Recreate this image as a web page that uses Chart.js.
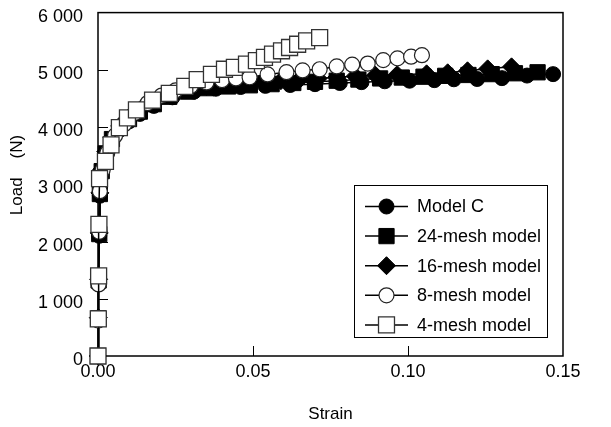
<!DOCTYPE html>
<html>
<head>
<meta charset="utf-8">
<script src="https://cdn.jsdelivr.net/npm/chart.js@4.4.1/dist/chart.umd.min.js"></script>
<style>
  html, body { margin: 0; padding: 0; background: #fff; }
  #wrap { width: 611px; height: 427px; }
</style>
</head>
<body>
<div id="wrap"><canvas id="chart" width="611" height="427"></canvas></div>
<script>
// values (strain, load in N)
const strainModelC = [0, 0.0001, 0.0002, 0.0004, 0.0006, 0.0012, 0.0025, 0.0045, 0.007, 0.010, 0.0135, 0.018, 0.024, 0.031, 0.038, 0.046, 0.054, 0.062, 0.070, 0.078, 0.085, 0.0925, 0.1005, 0.1085, 0.1148, 0.1223, 0.1303, 0.1384, 0.1468];
const loadModelC = [0, 650, 1300, 2100, 2800, 3200, 3500, 3750, 3950, 4100, 4230, 4370, 4520, 4620, 4670, 4700, 4720, 4735, 4750, 4770, 4785, 4800, 4810, 4820, 4835, 4840, 4855, 4900, 4925];

const strain24 = [0, 0.0001, 0.0002, 0.0004, 0.0006, 0.0012, 0.0025, 0.0045, 0.007, 0.010, 0.0135, 0.018, 0.023, 0.029, 0.035, 0.042, 0.049, 0.056, 0.063, 0.070, 0.077, 0.084, 0.091, 0.098, 0.105, 0.112, 0.1195, 0.127, 0.1345, 0.1418];
const load24 = [0, 660, 1320, 2130, 2830, 3230, 3540, 3790, 3990, 4140, 4270, 4400, 4530, 4620, 4680, 4710, 4730, 4750, 4770, 4790, 4810, 4830, 4850, 4865, 4880, 4895, 4910, 4925, 4940, 4957];

const strain16 = [0, 0.0001, 0.0002, 0.0004, 0.0006, 0.0012, 0.0025, 0.0045, 0.007, 0.010, 0.0135, 0.018, 0.023, 0.029, 0.035, 0.041, 0.047, 0.053, 0.059, 0.065, 0.071, 0.077, 0.083, 0.0895, 0.0965, 0.106, 0.1128, 0.1192, 0.1257, 0.1334];
const load16 = [0, 670, 1340, 2150, 2850, 3260, 3570, 3820, 4020, 4170, 4300, 4430, 4560, 4650, 4710, 4740, 4770, 4790, 4810, 4830, 4850, 4870, 4890, 4905, 4915, 4930, 4948, 4983, 5017, 5052];

const strain8 = [0, 0.0001, 0.0002, 0.0004, 0.0006, 0.0015, 0.003, 0.0055, 0.0085, 0.012, 0.016, 0.0205, 0.025, 0.030, 0.035, 0.040, 0.0445, 0.0489, 0.0547, 0.0608, 0.066, 0.0715, 0.077, 0.082, 0.087, 0.092, 0.0966, 0.101, 0.1045];
const load8 = [0, 620, 1250, 2170, 2880, 3250, 3550, 3850, 4050, 4250, 4420, 4550, 4640, 4720, 4780, 4820, 4850, 4870, 4920, 4960, 4990, 5010, 5060, 5090, 5110, 5170, 5200, 5230, 5256];

const strain4 = [0, 0.0001, 0.0002, 0.0003, 0.0005, 0.0024, 0.0042, 0.0069, 0.0095, 0.0124, 0.0176, 0.023, 0.028, 0.032, 0.0366, 0.0408, 0.044, 0.0479, 0.0511, 0.0537, 0.0563, 0.0592, 0.0618, 0.0644, 0.0673, 0.0715];
const load4 = [0, 650, 1400, 2300, 3100, 3400, 3690, 3990, 4160, 4300, 4470, 4590, 4710, 4830, 4920, 5010, 5043, 5100, 5160, 5217, 5274, 5333, 5390, 5447, 5506, 5563];

const seriesLabels = ['Model C', '24-mesh model', '16-mesh model', '8-mesh model', '4-mesh model'];

const xTicks = [0, 0.05, 0.10, 0.15];
const xTickLabels = ['0.00', '0.05', '0.10', '0.15'];
const yTicks = [0, 1000, 2000, 3000, 4000, 5000, 6000];
const yTickLabels = ['0', '1 000', '2 000', '3 000', '4 000', '5 000', '6 000'];
const xTitle = 'Strain';
const yTitle = 'Load    (N)';

const FONT = 'Arial, "Liberation Sans", sans-serif';

const markers = [
  { style: 'circle', r: 7.5, fill: '#000', edge: '#000', bw: 1 },
  { style: 'rect', r: 10.8, fill: '#000', edge: '#000', bw: 1 },
  { style: 'rectRot', r: 9, fill: '#000', edge: '#000', bw: 1 },
  { style: 'circle', r: 7.5, fill: '#fff', edge: '#222', bw: 1.2 },
  { style: 'rect', r: 11.3, fill: '#fff', edge: '#333', bw: 1.3 },
];

function toPoints(xs, ys) {
  return xs.map((x, i) => ({ x, y: ys[i] }));
}

const seriesData = [
  toPoints(strainModelC, loadModelC),
  toPoints(strain24, load24),
  toPoints(strain16, load16),
  toPoints(strain8, load8),
  toPoints(strain4, load4),
];

const datasets = seriesData.map((data, i) => {
  const m = markers[i];
  return {
    label: seriesLabels[i],
    data,
    showLine: true,
    borderColor: '#000',
    borderWidth: 1.5,
    pointStyle: m.style,
    pointRadius: m.r,
    pointHoverRadius: m.r,
    pointBackgroundColor: m.fill,
    pointBorderColor: m.edge,
    pointBorderWidth: m.bw,
    clip: false,
    order: 5 - i, // first series at the bottom
  };
});

// frame, inward tick marks and the y title
const framePlugin = {
  id: 'frame',
  beforeDatasetsDraw(chart) {
    const { ctx, chartArea: a } = chart;
    const xs = chart.scales.x, ys = chart.scales.y;
    ctx.save();
    ctx.strokeStyle = '#000';
    ctx.lineWidth = 1.5;
    ctx.strokeRect(a.left, a.top, a.right - a.left, a.bottom - a.top);
    ctx.lineWidth = 1;
    ctx.beginPath();
    yTicks.slice(1, -1).forEach((v) => {
      const y = Math.round(ys.getPixelForValue(v)) + 0.5;
      ctx.moveTo(a.left, y);
      ctx.lineTo(a.left + 10, y);
    });
    xTicks.slice(1, -1).forEach((v) => {
      const x = Math.round(xs.getPixelForValue(v)) + 0.5;
      ctx.moveTo(x, a.bottom);
      ctx.lineTo(x, a.bottom - 10);
    });
    ctx.stroke();

    ctx.translate(17, 175);
    ctx.rotate(-Math.PI / 2);
    ctx.fillStyle = '#000';
    ctx.font = '17px ' + FONT;
    ctx.textAlign = 'center';
    ctx.textBaseline = 'middle';
    ctx.fillText(yTitle, 0, 0);
    ctx.restore();
  },
};

// boxed legend with line + marker samples
const legendPlugin = {
  id: 'boxLegend',
  afterDraw(chart) {
    const { ctx } = chart;
    const box = { x: 354.5, y: 185.5, w: 193, h: 152 };
    ctx.save();
    ctx.fillStyle = '#fff';
    ctx.fillRect(box.x, box.y, box.w, box.h);
    ctx.strokeStyle = '#000';
    ctx.lineWidth = 1;
    ctx.strokeRect(box.x, box.y, box.w, box.h);
    ctx.font = '18px ' + FONT;
    ctx.textBaseline = 'middle';
    seriesLabels.forEach((label, i) => {
      const m = markers[i];
      const y = 206.5 + i * 29.6;
      ctx.strokeStyle = '#000';
      ctx.lineWidth = 1.5;
      ctx.beginPath();
      ctx.moveTo(365, y);
      ctx.lineTo(408, y);
      ctx.stroke();
      ctx.fillStyle = m.fill;
      ctx.strokeStyle = m.edge;
      ctx.lineWidth = m.bw;
      Chart.helpers.drawPoint(ctx, { pointStyle: m.style, radius: m.r, rotation: 0, borderWidth: m.bw }, 386.5, y);
      ctx.fillStyle = '#000';
      ctx.fillText(label, 417, y + 1);
    });
    ctx.restore();
  },
};

new Chart(document.getElementById('chart'), {
  type: 'scatter',
  data: { datasets },
  options: {
    responsive: false,
    animation: false,
    devicePixelRatio: 1,
    layout: { padding: { left: 8, top: 6, right: 48, bottom: 0 } },
    plugins: { legend: { display: false }, tooltip: { enabled: false } },
    scales: {
      x: {
        type: 'linear',
        min: 0,
        max: 0.15,
        grid: { display: false },
        border: { display: false },
        afterBuildTicks: (s) => { s.ticks = xTicks.map((v) => ({ value: v })); },
        afterFit: (s) => { s.height = 71; s.paddingLeft = 0; s.paddingRight = 0; },
        ticks: {
          autoSkip: false,
          maxRotation: 0,
          padding: -3,
          color: '#000',
          font: { family: FONT, size: 18 },
          callback: (v, i) => xTickLabels[i],
        },
        title: {
          display: true,
          text: xTitle,
          color: '#000',
          font: { family: FONT, size: 17 },
          padding: { top: 0, bottom: 2 },
        },
      },
      y: {
        min: 0,
        max: 6000,
        grid: { display: false },
        border: { display: false },
        afterBuildTicks: (s) => { s.ticks = yTicks.map((v) => ({ value: v })); },
        afterFit: (s) => { s.width = 90; s.paddingTop = 0; s.paddingBottom = 0; },
        ticks: {
          autoSkip: false,
          padding: 7,
          labelOffset: 4,
          color: '#000',
          font: { family: FONT, size: 18 },
          callback: (v, i) => yTickLabels[i],
        },
        title: { display: false },
      },
    },
  },
  plugins: [framePlugin, legendPlugin],
});
</script>
</body>
</html>
